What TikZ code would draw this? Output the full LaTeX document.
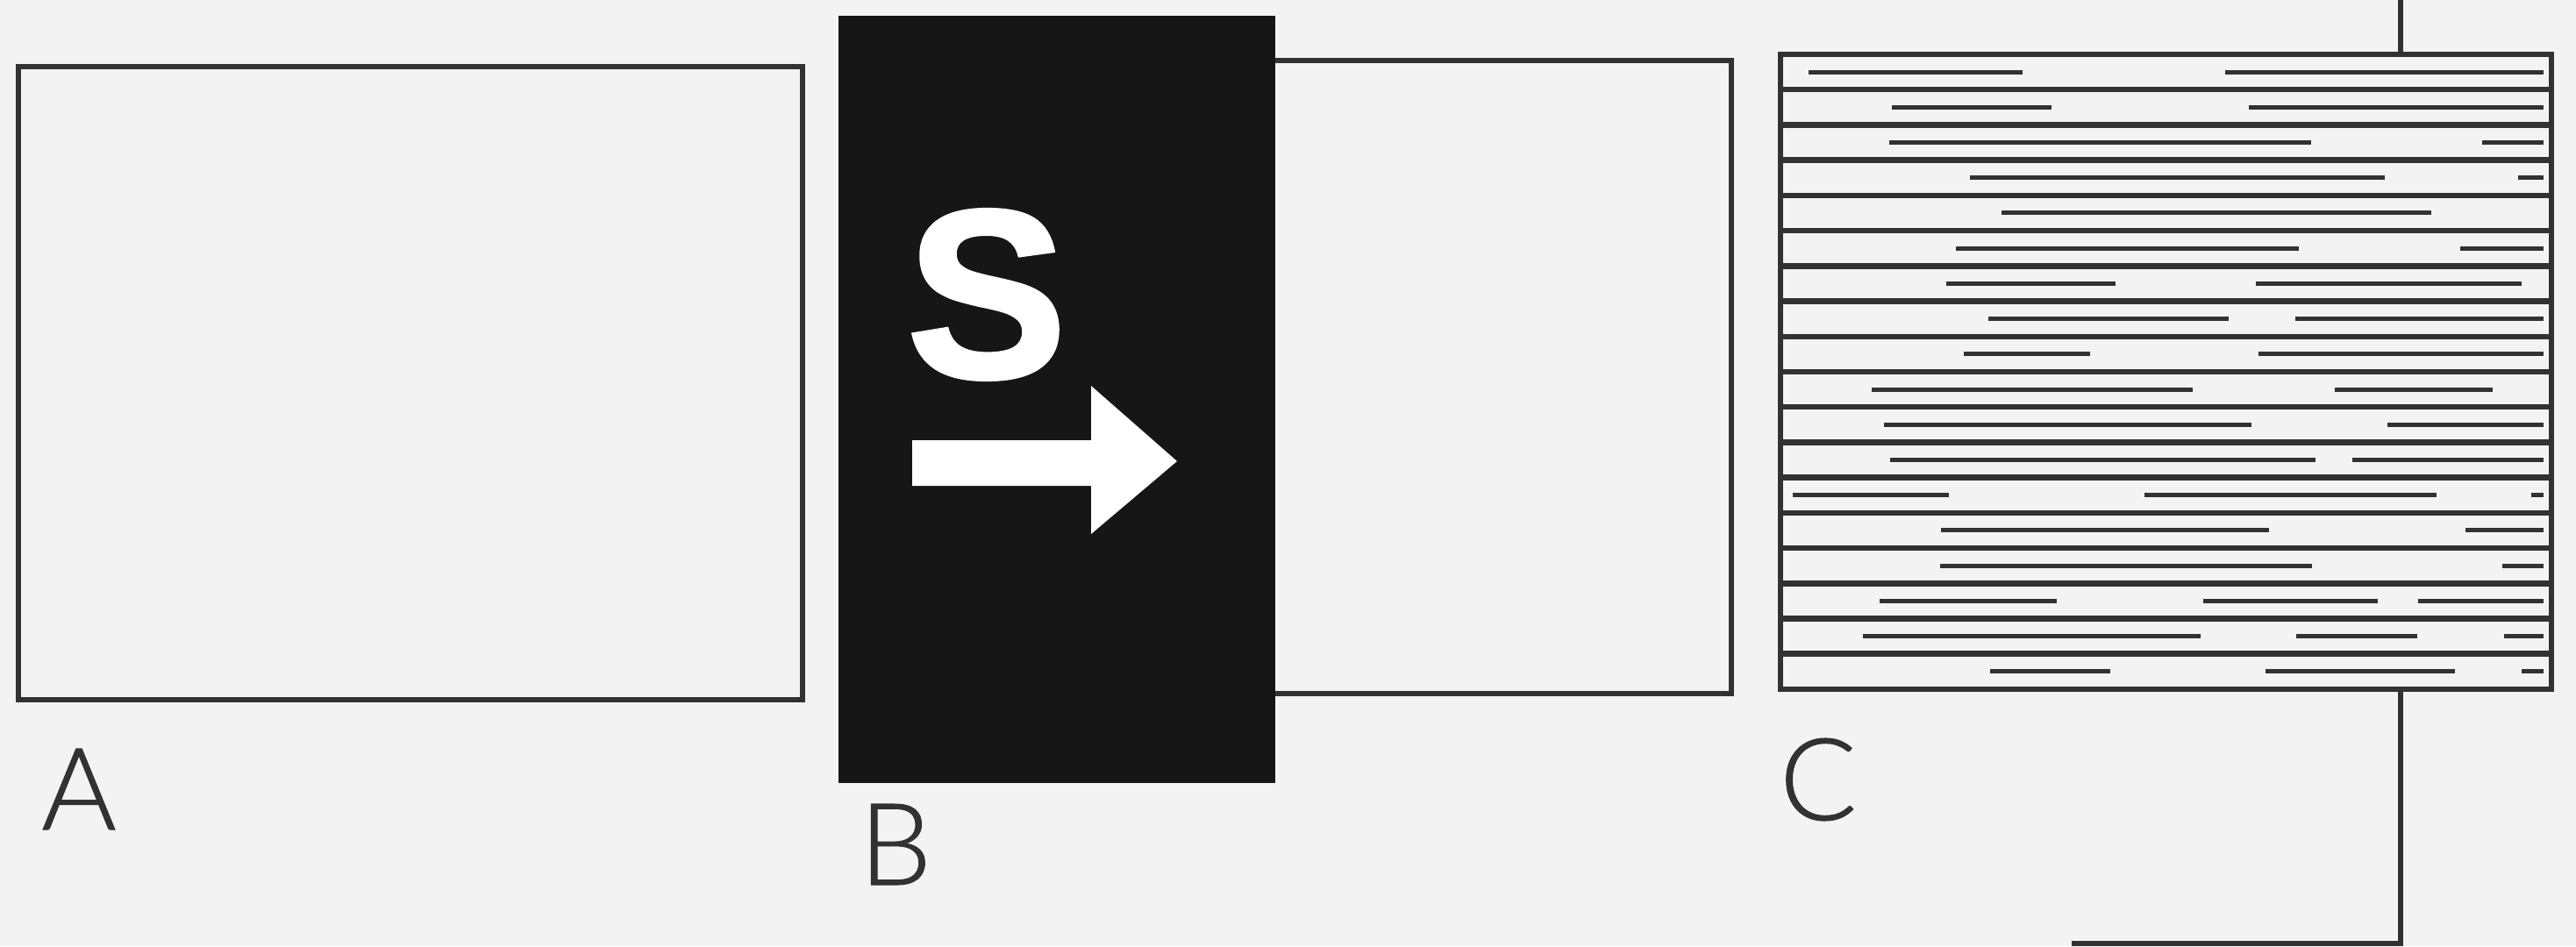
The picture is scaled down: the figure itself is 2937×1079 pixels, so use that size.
\documentclass[tikz,border=0pt]{standalone}
\usepackage{fontspec}
\IfFontExistsTF{Lato Light}{\newfontfamily\lblfont{Lato Light}[UprightFeatures={FakeBold=0.8}]}{\newfontfamily\lblfont{Lato}}
\newfontfamily\sfont{Liberation Sans Bold}[FakeBold=1.5]
\definecolor{bgc}{RGB}{243,243,243}
\definecolor{ink}{RGB}{50,50,50}
\definecolor{blk}{RGB}{22,22,22}
\tikzset{
  panel/.style={draw=ink, line width=0.55mm, fill=bgc, inner sep=0pt, outer sep=0pt, anchor=north west},
  darkpanel/.style={fill=blk, draw=blk, line width=0.2mm, inner sep=0pt, outer sep=0pt, anchor=north west},
  lbl/.style={inner sep=0pt, text=ink, font=\lblfont\fontsize{37}{40}\selectfont},
  conn/.style={draw=ink, line width=0.6mm},
  hatchfull/.style={draw=ink, line width=0.65mm},
  hatchthin/.style={draw=ink, line width=0.5mm}
}
\begin{document}
\begin{tikzpicture}[x=0.1mm,y=-0.1mm]
\useasboundingbox (0,0) rectangle (2937,1079);
\fill[bgc] (0,0) rectangle (2937,1079);
% box A
\node[panel, minimum width=89.4mm, minimum height=72.2mm] (A) at (21,76) {};
% box behind B
\node[panel, minimum width=57.4mm, minimum height=72.2mm] (D) at (1400,69) {};
% dark panel B
\node[darkpanel, minimum width=49.6mm, minimum height=87.3mm] (B) at (957,19) {};
\node[inner sep=0pt, text=white, font=\sfont\bfseries\fontsize{78}{80}\selectfont] (S) at (1125,336) {S};
\fill[white] (1040,502) -- (1244,502) -- (1244,440) -- (1342,526) -- (1244,609) -- (1244,554) -- (1040,554) -- cycle;
% box C with hatching
\node[panel, minimum width=87.9mm, minimum height=72.4mm] (C) at (2030,62) {};
\foreach \k in {2,4,...,34}{
  \pgfmathsetmacro\yy{62+20.11*\k}
  \draw[hatchfull] (2030,\yy) -- (2909,\yy);
}
\pgfmathsetseed{3}
\foreach \k in {1,3,...,35}{
  \pgfmathsetmacro\yy{62+20.11*\k}
  \pgfmathsetmacro\xa{2040+rnd*250}
  \pgfmathsetmacro\xb{min(\xa+120+rnd*380,2900)}
  \pgfmathsetmacro\xc{min(\xb+40+rnd*200,2900)}
  \pgfmathsetmacro\xd{min(\xc+100+rnd*450,2900)}
  \pgfmathsetmacro\xe{min(\xd+40+rnd*150,2900)}
  \pgfmathsetmacro\xf{min(\xe+100+rnd*400,2900)}
  \draw[hatchthin] (\xa,\yy) -- (\xb,\yy) (\xc,\yy) -- (\xd,\yy) (\xe,\yy) -- (\xf,\yy);
}
\draw[ink, line width=0.55mm] (C.north west) rectangle (C.south east);
% connectors
\coordinate (top) at (2737,0);
\coordinate (bot) at (2737,1076);
\coordinate (botend) at (2362,1076);
\draw[conn] (top) -- (top |- C.north);
\draw[conn] (bot |- C.south) -- (bot) -- (botend);
% labels
\node[lbl] (la) at (90,900) {A};
\node[lbl] (lb) at (1021,963) {B};
\node[lbl] (lc) at (2073,889) {C};
\end{tikzpicture}
\end{document}
